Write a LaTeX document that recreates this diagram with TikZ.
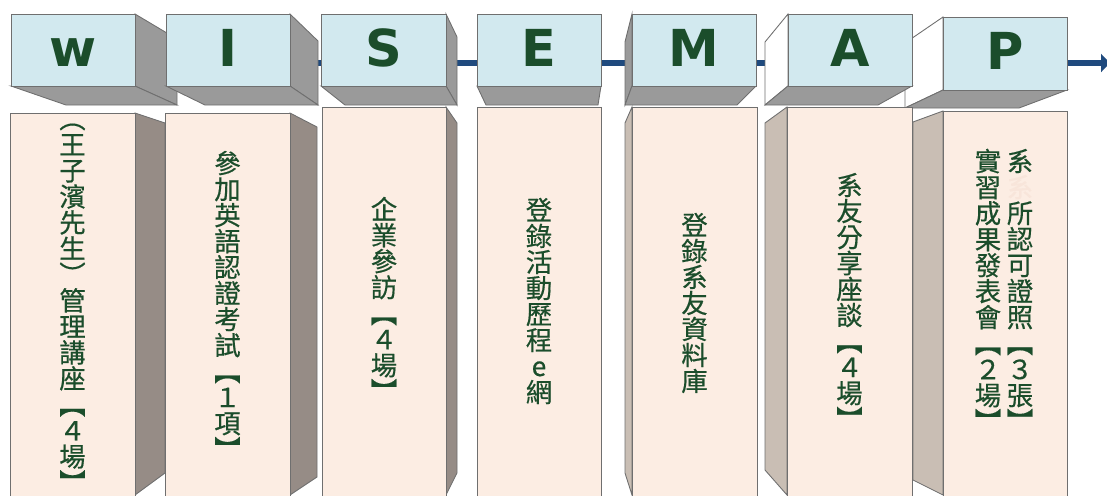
\documentclass[tikz,border=0pt]{standalone}
\usepackage{fontspec}
\newfontfamily\cjkfont{Noto Sans CJK TC}[FakeBold=0.5]
\newfontfamily\letterfont{DejaVu Sans}
\usetikzlibrary{arrows.meta}

\definecolor{boxblue}{HTML}{D2E9EF}
\definecolor{boxgray}{HTML}{9A9A9A}
\definecolor{edge}{HTML}{6F6F6F}
\definecolor{peach}{HTML}{FCEDE3}
\definecolor{faint}{HTML}{F8E5DA}
\definecolor{sidedark}{HTML}{968C86}
\definecolor{sidelight}{HTML}{C9BEB4}
\definecolor{ink}{HTML}{1B4D2B}
\definecolor{axisblue}{HTML}{1F4A7E}

\begin{document}
\begin{tikzpicture}[
    x=0.02cm, y=-0.02cm,
    front/.style={fill=boxblue, draw=edge, line width=0.5pt},
    shade/.style={fill=boxgray, draw=edge, line width=0.5pt},
    blank/.style={fill=white, draw=edge, line width=0.5pt},
    panel/.style={fill=peach, draw=edge, line width=0.5pt},
    dark side/.style={fill=sidedark, draw=edge, line width=0.5pt},
    light side/.style={fill=sidelight, draw=edge, line width=0.5pt},
    letter/.style={font=\letterfont\bfseries\fontsize{29}{29}\selectfont, text=ink, anchor=base, inner sep=0pt},
    label/.style={font=\cjkfont\fontsize{15}{14.8}\selectfont, text=ink, align=center, inner sep=0pt},
    timeline/.style={draw=axisblue, line width=3.8pt, -{Triangle[length=5pt, width=10pt]}}
]
\clip (0,0) rectangle (1107,495);

% Time line
\coordinate (axis start) at (100,63);
\coordinate (axis end) at (1110,63);
\draw[timeline] (axis start) -- (axis end);

% Letter boxes
\draw[shade] (135,14) -- (177,39) -- (177,105) -- (135,86) -- cycle;
\draw[shade] (11,86) -- (135,86) -- (177,105) -- (66,105) -- cycle;
\draw[front] (11,14) rectangle (135,86);
\node[letter] (w) at (73,66) {w};

\draw[shade] (290,14) -- (318,41) -- (318,105) -- (290,86) -- cycle;
\draw[shade] (166,86) -- (290,86) -- (318,105) -- (205,105) -- cycle;
\draw[front] (166,14) rectangle (290,86);
\node[letter] (i) at (228,66) {I};

\draw[shade] (446,14) -- (457,37) -- (457,105) -- (446,86) -- cycle;
\draw[shade] (321,86) -- (446,86) -- (457,105) -- (345,105) -- cycle;
\draw[front] (321,14) rectangle (446,86);
\node[letter] (s) at (383.5,66) {S};

\draw[shade] (477,86) -- (601,86) -- (598,105) -- (486,105) -- cycle;
\draw[front] (477,14) rectangle (601,86);
\node[letter] (e) at (539,66) {E};

\draw[shade] (632,14) -- (625,42) -- (625,105) -- (632,86) -- cycle;
\draw[shade] (632,86) -- (756,86) -- (737,105) -- (625,105) -- cycle;
\draw[front] (632,14) rectangle (756,86);
\node[letter] (m) at (694,66) {M};

\draw[blank] (943,17) -- (905,43) -- (905,108) -- (943,90) -- cycle;
\draw[shade] (943,90) -- (1067,90) -- (1019,108) -- (905,108) -- cycle;
\draw[front] (943,17) rectangle (1067,90);
\node[letter] (p) at (1005,69.5) {P};

\draw[blank] (788,14) -- (765,42) -- (765,105) -- (788,86) -- cycle;
\draw[shade] (788,86) -- (912,86) -- (878,105) -- (765,105) -- cycle;
\draw[front] (788,14) rectangle (912,86);
\node[letter] (a) at (850,66) {A};

% Activity panels
\draw[dark side] (135,113) -- (165,123) -- (165,473) -- (135,495) -- cycle;
\draw[panel] (10,113) rectangle (135,500);
\node[label] (t1) at (72.5,308) {︵\\王\\子\\濱\\先\\生\\︶\\管\\理\\講\\座\\︻\\４\\場\\︼};

\draw[dark side] (290,113) -- (317,127) -- (317,477) -- (290,495) -- cycle;
\draw[panel] (165,113) rectangle (290,500);
\node[label] (t2) at (227.5,305) {參\\加\\英\\語\\認\\證\\考\\試\\︻\\１\\項\\︼};

\draw[dark side] (446,107) -- (457,123) -- (457,473) -- (446,495) -- cycle;
\draw[panel] (322,107) rectangle (446,500);
\node[label] (t3) at (384,299) {企\\業\\參\\訪\\︻\\４\\場\\︼};

\draw[panel] (477,107) rectangle (601,500);
\node[label] (t4) at (539,301) {登\\錄\\活\\動\\歷\\程\\e\\網};

\draw[light side] (632,107) -- (625,123) -- (625,473) -- (632,495) -- cycle;
\draw[panel] (632,107) rectangle (757,500);
\node[label] (t5) at (694.5,303) {登\\錄\\系\\友\\資\\料\\庫};

\draw[light side] (787,107) -- (765,123) -- (765,470) -- (787,495) -- cycle;
\draw[panel] (787,107) rectangle (912,500);
\node[label] (t6) at (849.5,301) {系\\友\\分\\享\\座\\談\\︻\\４\\場\\︼};

\draw[light side] (943,111) -- (913,122) -- (913,480) -- (943,495) -- cycle;
\draw[panel] (943,111) rectangle (1067,500);
\node[label] (t7a) at (1020,290) {系\\\textcolor{faint}{系}\\所\\認\\可\\證\\照\\︻\\３\\張\\︼};
\node[label] (t7b) at (988,290) {實\\習\\成\\果\\發\\表\\會\\︻\\２\\場\\︼};

\end{tikzpicture}
\end{document}
